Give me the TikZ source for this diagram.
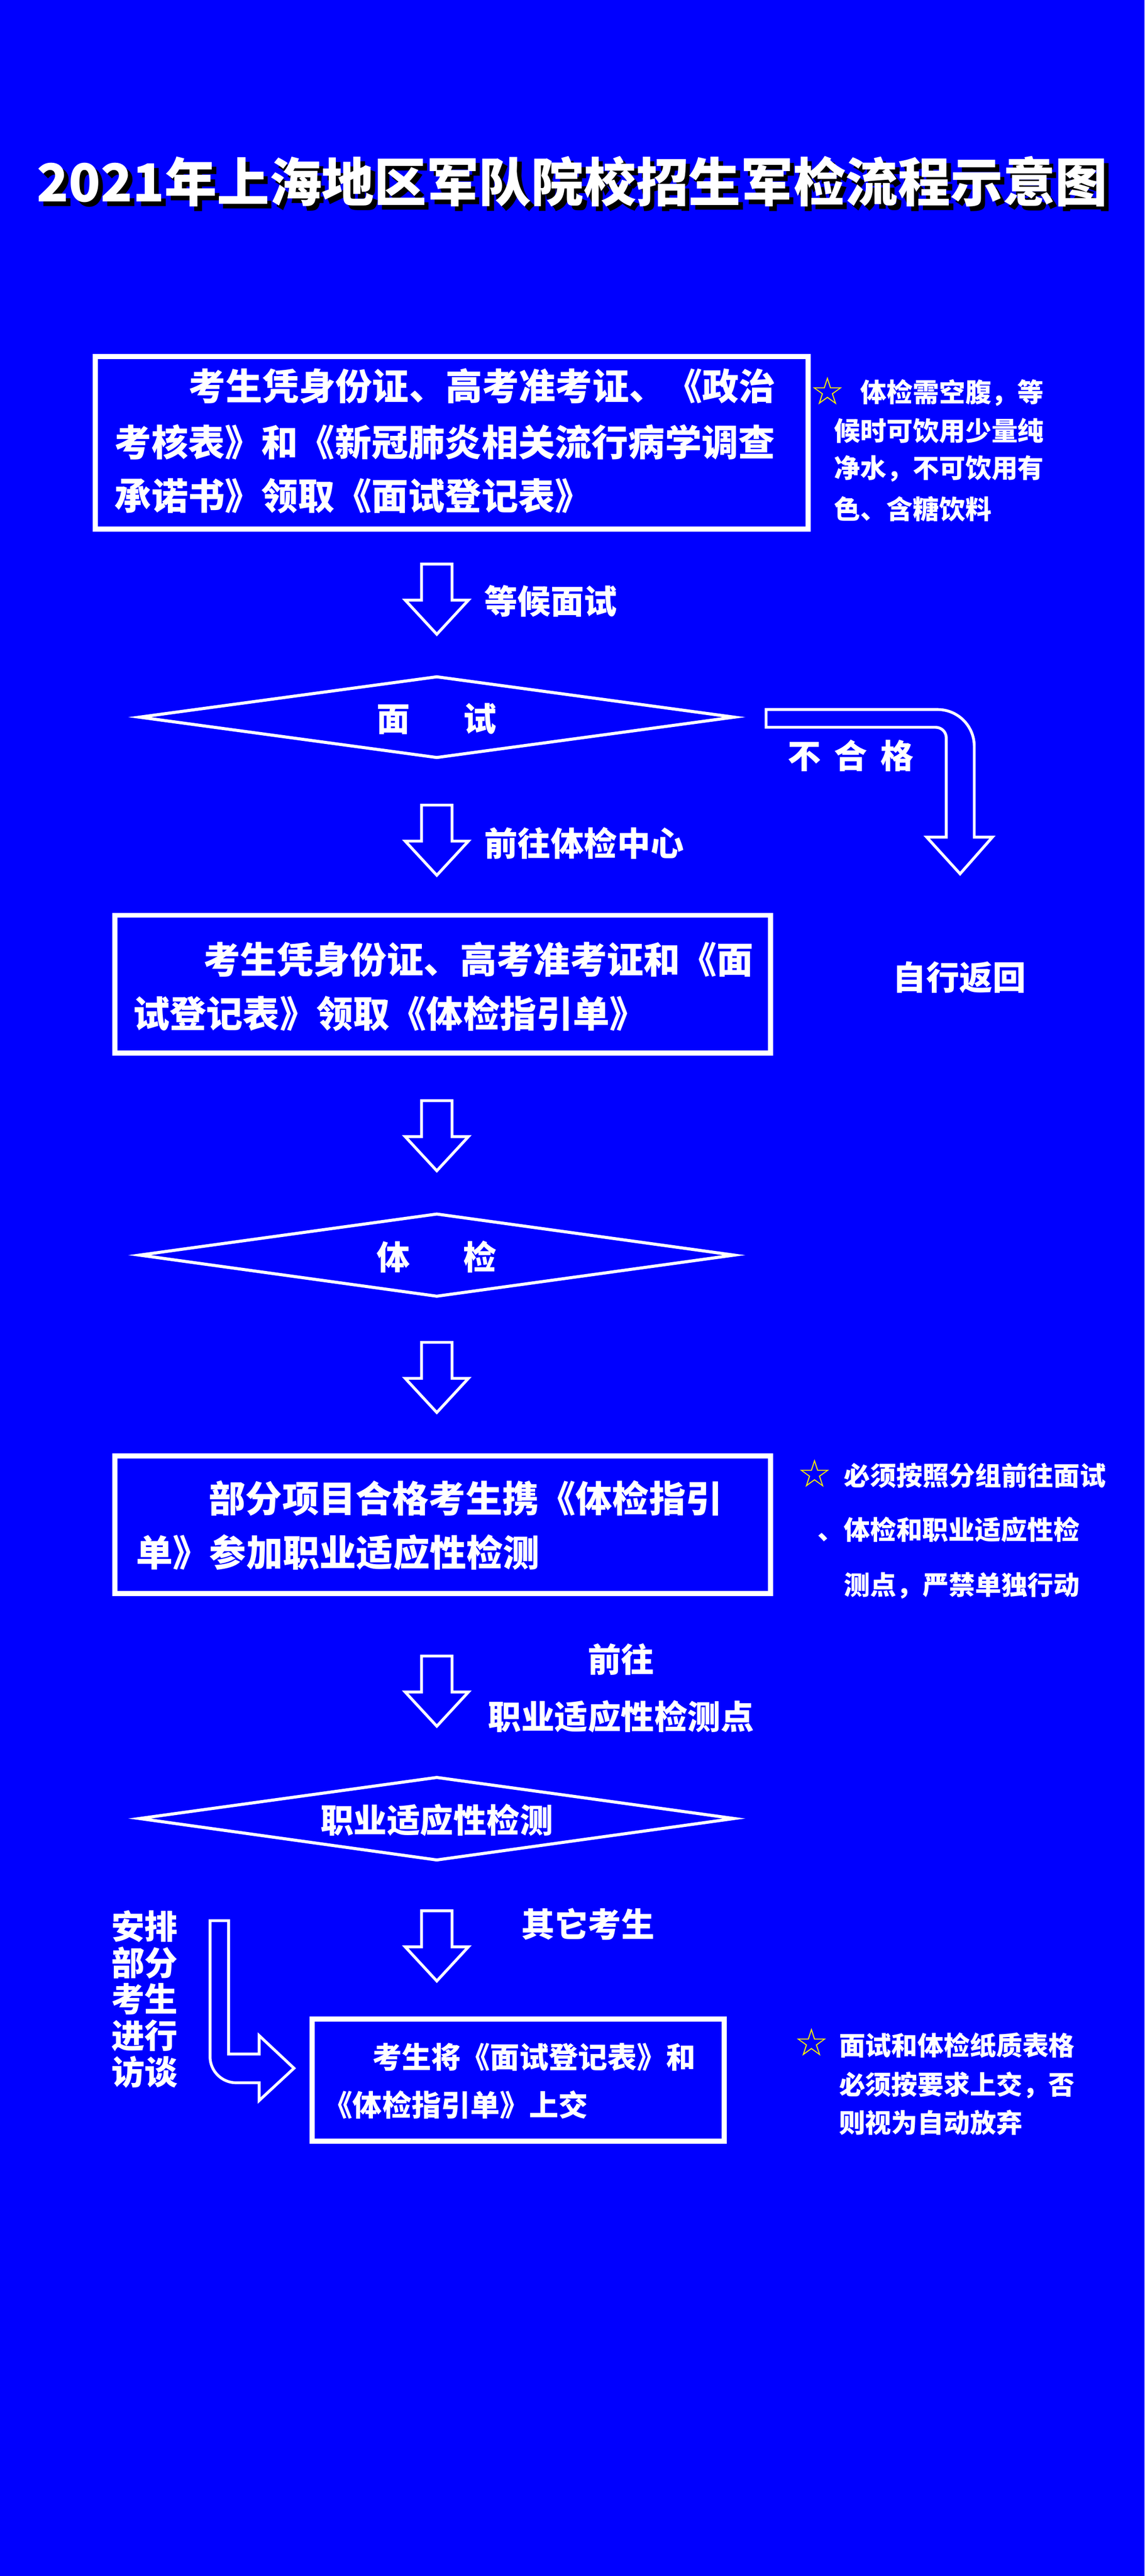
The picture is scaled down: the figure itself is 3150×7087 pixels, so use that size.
\documentclass[tikz,border=0pt]{standalone}
\usepackage{fontspec}
\setmainfont{Noto Sans CJK SC}
\newfontfamily\symf{DejaVu Sans}
\begin{document}
\begin{tikzpicture}[x=0.01cm,y=-0.01cm,
  every node/.style={inner sep=0pt,outer sep=0pt,text=white,font=\bfseries},
  frame/.style={draw=white,line width=4pt},
  dia/.style={draw=white,line width=2.4pt},
  arr/.style={draw=white,line width=2.2pt,line join=miter},
  boxtxt/.style={anchor=west,font=\bfseries\fontsize{28.7}{30}\selectfont},
  lbl/.style={font=\bfseries\fontsize{26}{28}\selectfont},
  note/.style={anchor=west,font=\bfseries\fontsize{20.5}{22}\selectfont},
  startxt/.style={text=yellow,font=\symf\bfseries\fontsize{30}{32}\selectfont},
  darrow/.pic={\draw[arr] (-42,0) -- (42,0) -- (42,99) -- (87,99) -- (0,193) -- (-87,99) -- (-42,99) -- cycle;}]
\fill[blue] (0,0) rectangle (3150,7087);
\useasboundingbox (0,0) rectangle (3150,7087);
% title
\node[text=black,font=\bfseries\fontsize{41}{45}\selectfont] (tsh) at (1587,512) {2021年上海地区军队院校招生军检流程示意图};
\node[font=\bfseries\fontsize{41}{45}\selectfont] (title) at (1575,500) {2021年上海地区军队院校招生军检流程示意图};
% box1
\draw[frame] (262,981) rectangle (2224,1455);
\node[boxtxt] (b1a) at (520,1062) {考生凭身份证、高考准考证、《政治};
\node[boxtxt] (b1b) at (316,1216) {考核表》和《新冠肺炎相关流行病学调查};
\node[boxtxt] (b1c) at (316,1365) {承诺书》领取《面试登记表》};
% note1
\node[startxt] (s1) at (2278,1076) {☆};
\node[note] (n1a) at (2368,1080) {体检需空腹，等};
\node[note] (n1b) at (2296,1185) {候时可饮用少量纯};
\node[note] (n1c) at (2296,1290) {净水，不可饮用有};
\node[note] (n1d) at (2296,1400) {色、含糖饮料};
% arrow1
\pic at (1202,1552) {darrow};
\node[lbl,anchor=west] (l1) at (1333,1654) {等候面试};
% diamond1
\draw[dia] (384,1973) -- (1202,1862) -- (2020,1973) -- (1202,2084) -- cycle;
\node[lbl] (d1) at (1202,1978) {面\hspace{1.6em}试};
% fail arrow
\draw[arr] (2108,1952) -- (2580,1952) arc[start angle=-90,end angle=0,radius=101] -- (2681,2303) -- (2731,2303) -- (2642,2404) -- (2550,2303) -- (2604,2303) -- (2604,2030) arc[start angle=0,end angle=-90,radius=29] -- (2108,2001) -- cycle;
\node[lbl] (fail) at (2341,2079) {不\hspace{0.4em}合\hspace{0.4em}格};
% arrow2
\pic at (1202,2215) {darrow};
\node[lbl,anchor=west] (l2) at (1333,2319) {前往体检中心};
% box2
\draw[frame] (316,2518) rectangle (2120,2897);
\node[boxtxt] (b2a) at (560,2640) {考生凭身份证、高考准考证和《面};
\node[boxtxt] (b2b) at (366,2789) {试登记表》领取《体检指引单》};
\node[lbl] (back) at (2640,2689) {自行返回};
% arrow3
\pic at (1202,3028) {darrow};
% diamond2
\draw[dia] (384,3453) -- (1202,3340) -- (2020,3453) -- (1202,3566) -- cycle;
\node[lbl] (d2) at (1202,3458) {体\hspace{1.6em}检};
% arrow4
\pic at (1202,3693) {darrow};
% box3
\draw[frame] (316,4005) rectangle (2120,4384);
\node[boxtxt] (b3a) at (575,4122) {部分项目合格考生携《体检指引};
\node[boxtxt] (b3b) at (375,4271) {单》参加职业适应性检测};
% note2
\node[startxt] (s2) at (2242,4054) {☆};
\node[note] (n2a) at (2323,4059) {必须按照分组前往面试};
\node[note] (n2b) at (2250,4208) {、体检和职业适应性检};
\node[note] (n2c) at (2323,4362) {测点，严禁单独行动};
% arrow5
\pic at (1202,4556) {darrow};
\node[lbl] (l5a) at (1709,4565) {前往};
\node[lbl] (l5b) at (1709,4723) {职业适应性检测点};
% diamond3
\draw[dia] (384,5003) -- (1202,4890) -- (2020,5003) -- (1202,5117) -- cycle;
\node[lbl] (d3) at (1202,5008) {职业适应性检测};
% arrow6
\pic at (1202,5257) {darrow};
\node[lbl] (l6) at (1618,5293) {其它考生};
% box4
\draw[frame] (859,5555) rectangle (1993,5890);
\node[boxtxt,font=\bfseries\fontsize{23}{25}\selectfont] (b4a) at (1025,5659) {考生将《面试登记表》和};
\node[boxtxt,font=\bfseries\fontsize{23}{25}\selectfont] (b4b) at (890,5790) {《体检指引单》上交};
% left vertical text
\node[lbl,align=center,font=\bfseries\fontsize{26}{28.5}\selectfont] (iv) at (398,5500) {安排\\部分\\考生\\进行\\访谈};
% interview arrow
\draw[arr] (578,5284) -- (629,5284) -- (629,5651) -- (713,5651) -- (713,5600) -- (809,5690) -- (713,5779) -- (713,5730) -- (650,5730) arc[start angle=90,end angle=180,radius=72] -- cycle;
% note3
\node[startxt] (s3) at (2233,5618) {☆};
\node[note] (n3a) at (2309,5627) {面试和体检纸质表格};
\node[note] (n3b) at (2309,5736) {必须按要求上交，否};
\node[note] (n3c) at (2309,5840) {则视为自动放弃};
\end{tikzpicture}
\end{document}
